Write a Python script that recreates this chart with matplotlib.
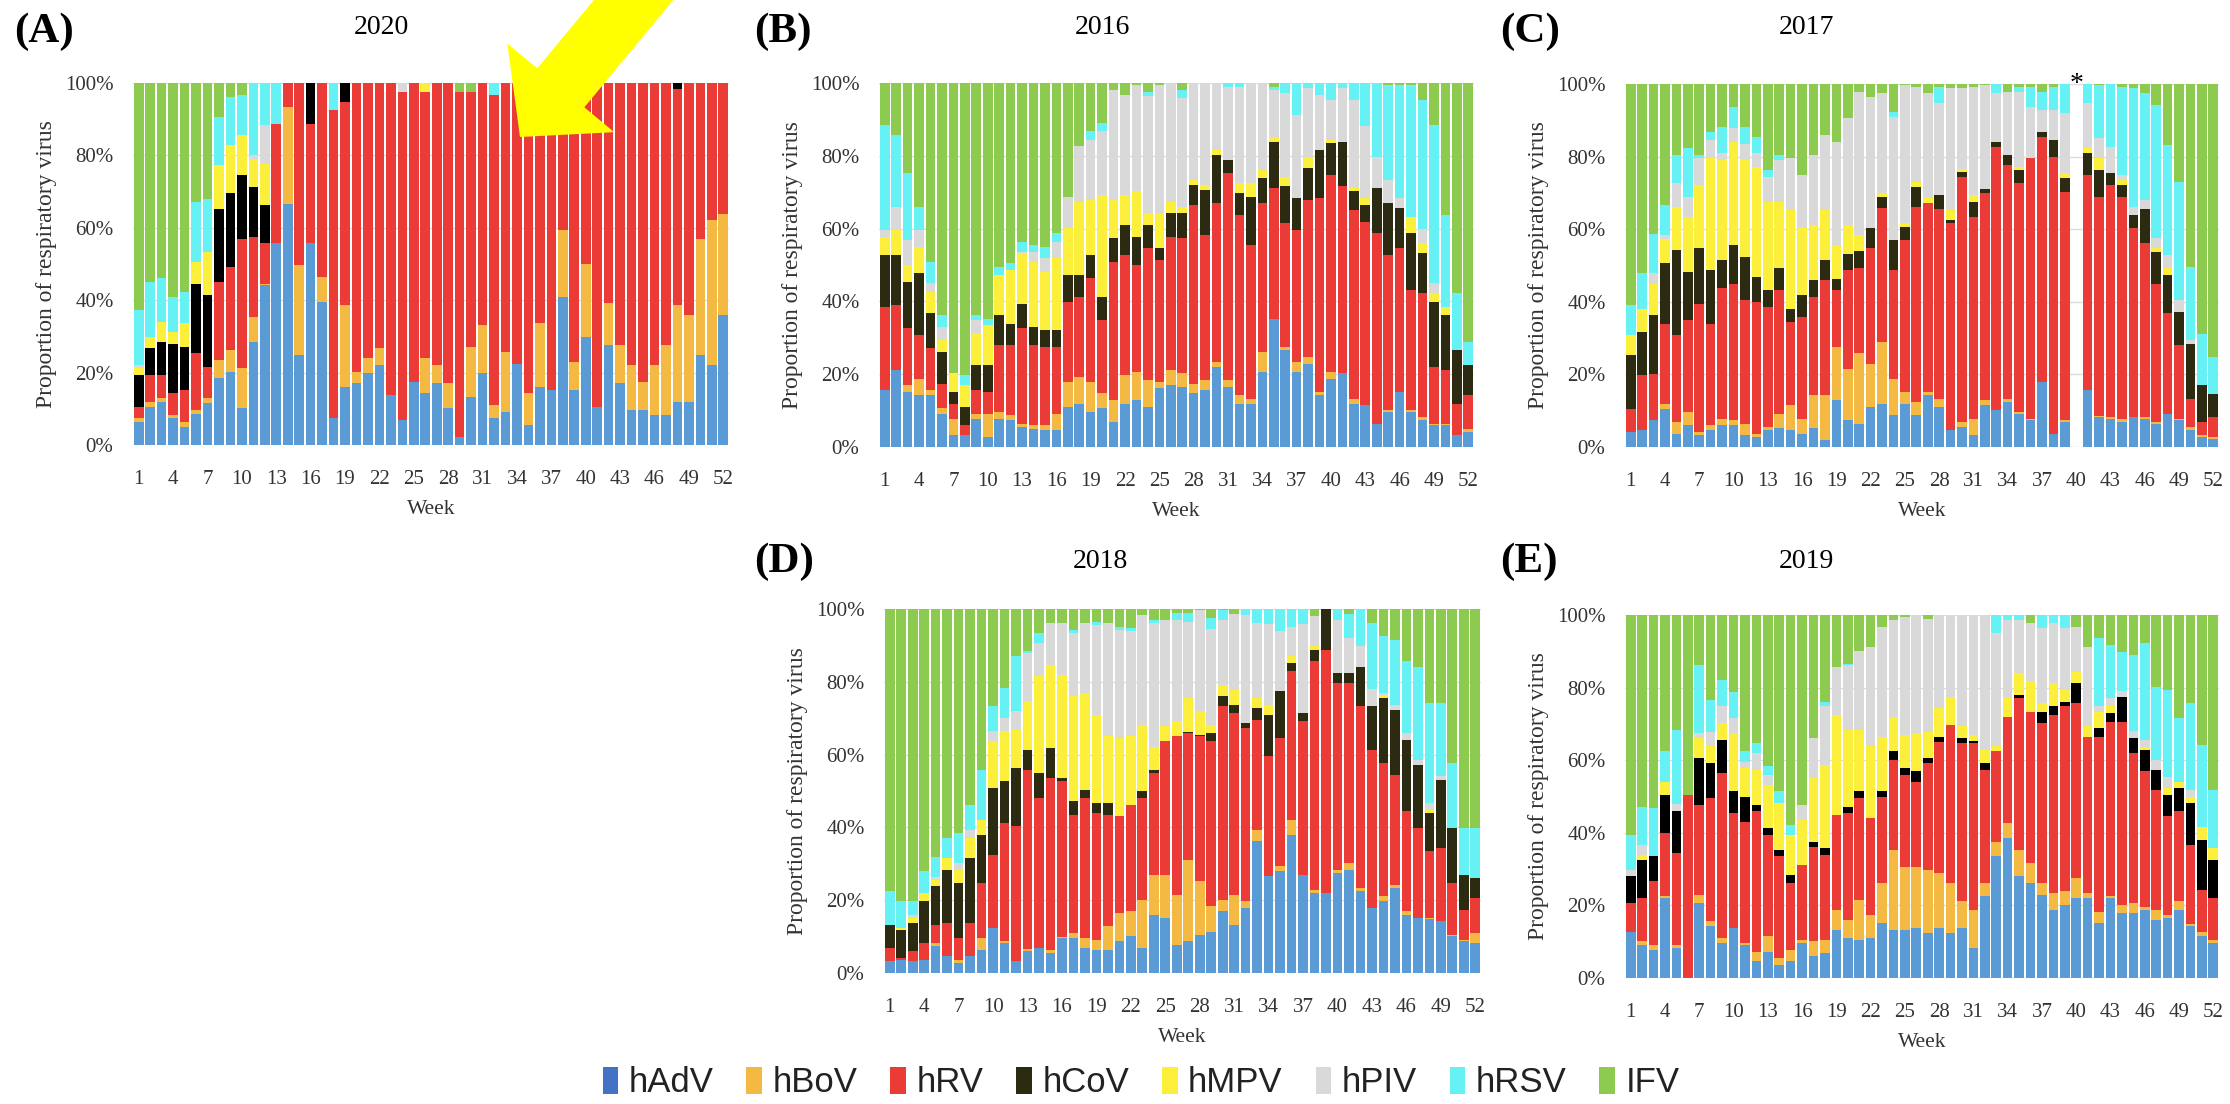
import matplotlib
matplotlib.use("Agg")
import matplotlib.pyplot as plt
from matplotlib import font_manager
from matplotlib.patches import FancyArrowPatch, Patch
import numpy as np

plt.rcParams['font.family'] = ['Liberation Serif', 'DejaVu Serif']

viruses = ["hAdV", "hBoV", "hRV", "hCoV", "hMPV", "hPIV", "hRSV", "IFV"]
colors = ["#5B9BD5", "#F4B942", "#EB3B36", "#2C2A10", "#FCEF3C", "#D9D9D9", "#66F2F5", "#8DCB50"]
legend_colors = ["#4472C4", "#F4B942", "#EB3B36", "#2C2A10", "#FCEF3C", "#D9D9D9", "#66F2F5", "#8DCB50"]
weeks = np.arange(1, 53)
week_ticks = np.arange(1, 53, 3)
nan = np.nan

# upper edge (%) of each stacked layer; IFV fills the rest up to 100%
adv_2020 = [6.4, 10.6, 12, 7.4, 5.1, 8.7, 11.5, 18.4, 20.2, 10.1,
            28.5, 44.2, 55.7, 66.7, 24.8, 55.7, 39.6, 7.4, 16.1, 17,
            19.8, 22.1, 13.8, 6.9, 17.5, 14.3, 17, 10.1, 2.3, 13.3,
            19.8, 7.4, 9.2, 22.5, 5.5, 16.1, 15.2, 40.9, 15.2, 29.9,
            10.6, 27.6, 17, 9.7, 9.7, 8.3, 8.3, 12, 12, 24.8,
            22.1, 35.9]
bov_2020 = [7.4, 12, 12.9, 8.3, 6.4, 9.7, 12.9, 23.5, 26.2, 21.2,
            35.4, 44.6, 55.7, 93.4, 49.7, 55.7, 46.5, 7.4, 38.6, 20.2,
            23.9, 26.7, 13.8, 6.9, 17.5, 23.9, 22.1, 17, 2.3, 27.1,
            33.1, 11, 25.8, 22.5, 14.3, 33.6, 15.2, 59.3, 23, 50.1,
            10.6, 39.1, 27.6, 22.1, 17.5, 22.1, 27.6, 38.6, 35.9, 57,
            62.1, 63.9]
rv_2020 = [10.6, 19.3, 19.3, 14.3, 15.2, 25.3, 21.6, 45, 49.2, 57,
           57.5, 55.7, 88.8, 100, 100, 88.8, 100, 92.5, 94.8, 100,
           100, 100, 100, 97.5, 100, 97.5, 100, 100, 97.5, 97.5,
           100, 96.6, 100, 100, 100, 100, 100, 100, 100, 100,
           100, 100, 100, 100, 100, 100, 100, 98.4, 100, 100,
           100, 100]
cov_2020 = [19.3, 26.7, 28.5, 28, 27.1, 44.6, 41.4, 65.3, 69.5, 74.5,
            71.3, 66.2, 88.8, 100, 100, 100, 100, 92.5, 100, 100,
            100, 100, 100, 97.5, 100, 97.5, 100, 100, 97.5, 97.5,
            100, 96.6, 100, 100, 100, 100, 100, 100, 100, 100,
            100, 100, 100, 100, 100, 100, 100, 100, 100, 100,
            100, 100]
mpv_2020 = [21.2, 29.9, 34, 31.3, 33.6, 50.6, 53.4, 77.3, 82.8, 85.6,
            79.1, 77.7, 88.8, 100, 100, 100, 100, 92.5, 100, 100,
            100, 100, 100, 97.5, 100, 100, 100, 100, 97.5, 97.5,
            100, 96.6, 100, 100, 100, 100, 100, 100, 100, 100,
            100, 100, 100, 100, 100, 100, 100, 100, 100, 100,
            100, 100]
piv_2020 = [22, 29.9, 34, 31.3, 33.6, 50.6, 53.4, 77.3, 82.8, 85.6,
            80, 88.3, 88.8, 100, 100, 100, 100, 92.5, 100, 100,
            100, 100, 100, 100, 100, 100, 100, 100, 97.5, 97.5,
            100, 96.6, 100, 100, 100, 100, 100, 100, 100, 100,
            100, 100, 100, 100, 100, 100, 100, 100, 100, 100,
            100, 100]
rsv_2020 = [37.3, 45, 46, 41, 42.3, 67.2, 68, 90.6, 96.1, 96.6,
            100, 100, 100, 100, 100, 100, 100, 100, 100, 100,
            100, 100, 100, 100, 100, 100, 100, 100, 97.5, 97.5,
            100, 100, 100, 100, 100, 100, 100, 100, 100, 100,
            100, 100, 100, 100, 100, 100, 100, 100, 100, 100,
            100, 100]

adv_2016 = [15.6, 21.1, 15.1, 14.2, 14.2, 9.2, 3.2, 3.2, 7.8, 2.8,
            7.8, 7.3, 5.5, 5, 4.6, 4.6, 11, 11.9, 9.6, 10.6,
            6.9, 11.9, 12.8, 11, 16.1, 17, 16.5, 14.7, 15.6, 22,
            16.5, 11.9, 11.9, 20.6, 35.3, 26.6, 20.6, 22.9, 14.2, 18.8,
            20.2, 11.9, 11.5, 6.4, 9.6, 15.1, 9.6, 7.3, 6, 6,
            3.2, 4.1]
bov_2016 = [15.6, 21.1, 17, 18.8, 15.6, 10.6, 7.8, 3.2, 9.2, 9.2,
            9.6, 8.7, 6.4, 6, 6, 9.2, 17.9, 19.3, 17.9, 14.7,
            12.8, 19.7, 20.6, 18.3, 17.9, 21.1, 20.2, 17.4, 18.3, 23.4,
            18.3, 14.2, 13.3, 26.1, 35.3, 27.5, 23.4, 24.8, 15.1, 20.6,
            20.2, 13.3, 11.5, 6.4, 10.1, 15.1, 10.1, 8.3, 6.4, 6.4,
            3.2, 5]
rv_2016 = [38.5, 39, 32.6, 30.7, 27.1, 17.4, 11.9, 6, 15.6, 15.1,
           28, 28, 32.6, 28, 27.5, 27.5, 39.9, 41.3, 46.3, 34.9,
           50.9, 52.8, 50, 54.6, 51.4, 57.8, 57.3, 66.5, 58.3, 67,
           75.2, 63.8, 55.5, 67, 71.1, 61.5, 59.6, 67.9, 68.3, 74.8,
           71.6, 65.1, 61.9, 58.7, 52.8, 54.6, 43.1, 42.2, 22, 21.1,
           11.9, 14.2]
cov_2016 = [52.8, 52.8, 45.4, 47.7, 36.7, 26.1, 15.1, 11, 22.5, 22.5,
            36.2, 33.9, 39.4, 33, 32.1, 32.1, 47.2, 47.2, 52.8, 41.3,
            57.3, 61, 57.8, 61, 54.6, 64.2, 64.2, 72, 70.6, 80.3,
            78.9, 69.7, 68.8, 73.9, 83.9, 71.6, 68.3, 76.6, 81.7, 83.5,
            83.9, 70.2, 66.5, 71.1, 67, 65.6, 58.7, 53.2, 39.9, 36.2,
            26.6, 22.5]
mpv_2016 = [57.8, 59.6, 50, 55, 42.7, 29.4, 20.2, 17, 31.2, 33.5,
            47.2, 48.6, 53.2, 50.9, 48.2, 51.8, 60.1, 67.4, 67.9, 69.3,
            67.9, 69.3, 70.2, 64.2, 64.2, 67.4, 66, 73.4, 72, 81.7,
            78.9, 72.5, 72.5, 76.1, 85.3, 74.3, 68.3, 79.8, 81.7, 84.4,
            83.9, 71.1, 68.3, 71.1, 67, 65.6, 63.3, 56, 42.2, 38.5,
            26.6, 22.5]
piv_2016 = [59.6, 66, 56.9, 59.6, 45, 33, 20.2, 17, 34.9, 33.5,
            47.2, 48.6, 53.7, 53.7, 51.8, 56.4, 68.8, 82.6, 84.4, 86.7,
            98.2, 96.8, 99.5, 96.3, 99.5, 100, 96, 100, 100, 100,
            99, 99, 100, 100, 98.2, 97.2, 91.3, 98.6, 96.8, 95.4,
            98.6, 95.4, 88.1, 79.8, 73.4, 68.3, 63.3, 60, 45, 38.5,
            26.6, 22.5]
rsv_2016 = [88.5, 85.8, 75.2, 66, 50.9, 36.2, 20.2, 19.7, 36.2, 35.3,
            49.5, 50.5, 56.4, 55.5, 55, 58.7, 68.8, 82.6, 86.7, 89,
            98.2, 96.8, 99.5, 97.5, 99.5, 100, 98, 100, 100, 100,
            100, 100, 100, 100, 99, 100, 100, 100, 100, 100,
            100, 100, 100, 100, 99.5, 99.5, 99.5, 95.4, 88.5, 63.8,
            42.2, 28.9]

adv_2017 = [4.1, 4.6, 7.4, 10.6, 3.7, 6, 3.2, 4.6, 6, 6,
            3.2, 2.8, 4.6, 5.1, 4.6, 3.7, 5.1, 1.8, 12.9, 7.4,
            6.4, 11, 11.9, 8.7, 11.9, 8.7, 14.2, 11, 4.6, 5.5,
            3.2, 11.5, 10.1, 12.4, 9.2, 7.4, 17.9, 3.7, 6.9, nan,
            15.6, 8.3, 7.8, 6.9, 8.3, 7.8, 6.4, 9.2, 7.4, 4.6,
            2.8, 2.3]
bov_2017 = [4.1, 4.6, 7.4, 11.9, 6.9, 9.7, 4.1, 6, 7.8, 7.4,
            6.4, 3.7, 5.5, 9.2, 11.5, 7.8, 14.2, 14.2, 27.6, 21.6,
            26, 23, 29, 18.8, 15.1, 12.4, 15.1, 13.3, 4.6, 6.9,
            7.8, 12.9, 10.1, 13.3, 9.6, 7.8, 17.9, 3.7, 7.5, nan,
            15.6, 8.6, 8.2, 7.8, 8.3, 8.2, 6.8, 9.2, 7.8, 5.5,
            3.2, 2.8]
rv_2017 = [10.6, 19.8, 20.2, 34, 30.8, 34.9, 39.5, 34, 43.7, 45,
           40.4, 40, 38.6, 43.2, 34.5, 35.8, 41.4, 46, 43.2, 48.7,
           49.2, 54.7, 65.8, 48.7, 57, 66.2, 67.1, 65.7, 61.6, 74.4,
           63.4, 69.9, 82.7, 77.7, 72.6, 79.5, 85.5, 80, 70.3, nan,
           74.9, 68.9, 72.2, 68.9, 60.2, 56.1, 45, 36.8, 28, 13.3,
           6.9, 8.3]
cov_2017 = [25.3, 31.7, 36.3, 50.6, 54.2, 48.3, 54.7, 48.7, 51.5, 55.6,
            52.4, 46.9, 43.2, 49.2, 38.1, 41.8, 46, 51.5, 46.4, 53.3,
            54, 60.2, 68.9, 57, 60.7, 71.7, 67.1, 69.4, 62.5, 75.8,
            67.6, 71.2, 84.1, 80.4, 76.3, 79.5, 86.9, 84.6, 74, nan,
            80.9, 76.3, 75.4, 72.2, 63.8, 65.7, 53.8, 47.3, 37.2, 28.5,
            17, 14.7]
mpv_2017 = [30.8, 38.1, 45, 57.4, 66.2, 63.4, 72.2, 79.5, 79, 84.1,
            79, 77.2, 67.6, 67.6, 65.3, 60.2, 61.1, 65.3, 55.6, 61.1,
            58.3, 60.2, 69.9, 57, 61.6, 73.1, 68.5, 69.4, 65.3, 76.7,
            69.4, 71.2, 84.1, 80.4, 77.2, 79.5, 86.9, 84.6, 75.4, nan,
            82.3, 79.5, 75.4, 73.5, 63.8, 65.7, 54.7, 49.2, 37.2, 28.5,
            17, 14.7]
piv_2017 = [30.8, 38.1, 47.8, 58.5, 72.6, 68.9, 79.5, 84.6, 81, 87.8,
            83.6, 80.9, 74.4, 79, 79.5, 74.9, 80.4, 85.9, 84.1, 90.5,
            97.7, 96.5, 97.4, 91, 99.7, 99.3, 97.4, 94.7, 99, 99,
            99.3, 99.7, 97.5, 97.9, 97.9, 93.8, 92.8, 92.8, 91.9, nan,
            94.7, 85, 82.7, 75, 66, 68, 57.5, 53, 40.4, 29.4,
            17, 14.7]
rsv_2017 = [39.1, 47.8, 58.8, 66.6, 80.4, 82.3, 80.4, 86.9, 88.2, 93.8,
            88.2, 85.5, 76.3, 80.4, 79.5, 74.9, 80.4, 85.9, 84.1, 90.5,
            97.7, 96.5, 97.4, 92.4, 99.7, 99.3, 97.4, 99.3, 99, 99,
            99.3, 99.7, 100, 97.9, 99.3, 99.3, 97.9, 99.3, 100, nan,
            100, 99.7, 100, 99.3, 98.8, 97.4, 94.2, 83.2, 73.1, 49.6,
            31.2, 24.8]

adv_2018 = [3.2, 3.7, 3.2, 3.7, 7.3, 4.6, 2.7, 4.6, 6.4, 12.4,
            8.2, 3.2, 6, 6.9, 5.5, 9.6, 9.6, 6.9, 6.4, 6.4,
            8.7, 10.1, 6.9, 16, 15.1, 7.8, 8.7, 10.5, 11.4, 16.9,
            13.3, 17.9, 36.2, 26.6, 27.9, 38, 27, 22, 22, 27.5,
            28.4, 22.4, 17.9, 19.7, 23.4, 16, 15.1, 14.7, 14.2, 10.1,
            8.7, 8.2]
bov_2018 = [3.2, 3.7, 3.2, 3.7, 8.2, 4.6, 3.7, 4.6, 9.6, 12.4,
            8.7, 3.2, 6.5, 6.9, 6.4, 10, 11, 9.6, 9.2, 12.8,
            16.5, 16.9, 20.1, 27, 27, 21.5, 31.1, 25.2, 18.3, 20.1,
            21.5, 19.7, 39.4, 26.6, 29.3, 42.1, 27, 22.9, 22, 28.4,
            30.2, 23.4, 17.9, 21.1, 24.3, 16.9, 15.1, 15, 14.2, 10.5,
            9.2, 11]
rv_2018 = [6.9, 4.1, 6, 8.2, 13.3, 13.7, 9.6, 13.7, 24.7, 32.5,
           41.2, 40.3, 55.9, 48.1, 53.6, 52.7, 43.5, 48.1, 44, 43.5,
           43, 46.2, 48.1, 54.9, 63.6, 65, 65.9, 65, 63.6, 73.3,
           71.4, 67.3, 69.6, 59.5, 64.6, 82.9, 69.1, 85.6, 88.8, 79.7,
           79.7, 73.3, 61.4, 57.7, 54.5, 44.4, 39.8, 33.4, 34.3, 24.7,
           17.4, 20.6]
cov_2018 = [13.3, 11.9, 13.7, 19.7, 23.8, 28.4, 24.7, 31.6, 38, 50.8,
            52.7, 56.3, 61.4, 54.9, 61.8, 53.6, 47.2, 50.4, 46.7, 46.7,
            43, 46.2, 49.9, 55.9, 63.6, 65, 66.3, 65.4, 65.9, 76,
            73.7, 68.7, 72.8, 71, 77.4, 85.2, 71.4, 88.8, 100, 82.4,
            82.4, 84.2, 73.3, 75.5, 72.3, 64.1, 57.2, 43.9, 53.1, 39.8,
            27, 26.1]
mpv_2018 = [13.3, 12.5, 15.1, 22, 25.6, 31.6, 28.4, 37.1, 42.1, 63.6,
            66.4, 66.8, 74.6, 81.5, 84.7, 82, 76, 76.9, 71, 65,
            64.6, 65, 68.2, 62, 67.8, 69.1, 75.5, 71.9, 68.2, 79.2,
            77.8, 68.7, 75.5, 73.7, 77.4, 87, 71.4, 89.7, 100, 82.4,
            82.4, 84.2, 73.3, 76.5, 72.3, 64.1, 57.2, 44.9, 53.1, 39.8,
            27, 26.1]
piv_2018 = [13.3, 12.5, 16, 22, 26.5, 31.6, 30.2, 39.4, 42.1, 66.4,
            70.1, 72, 87.9, 90.7, 96.2, 96.2, 93.4, 96.2, 95.7, 96.2,
            94.3, 93.9, 98.4, 96.2, 97.1, 97, 96.5, 99.8, 94.5, 97,
            98.5, 98.4, 96.2, 96, 94, 95, 96, 98, 100, 97,
            92, 89.7, 78, 77, 73.5, 66, 58.5, 46.7, 54, 39.8,
            27, 26.1]
rsv_2018 = [22.4, 19.7, 19.7, 27.9, 32, 37.1, 38.5, 46.2, 55.9, 73.3,
            78.3, 87, 88.4, 93.4, 96.2, 96.2, 94.3, 96.2, 96.5, 96.2,
            95, 94.7, 98.4, 97, 97.1, 99, 98.9, 99.8, 97.5, 99.8,
            98.5, 100, 100, 100, 100, 100, 100, 98, 100, 100,
            98.5, 100, 96.2, 92.5, 91.6, 85.6, 84.2, 74.2, 74.2, 57.7,
            39.8, 39.8]

adv_2019 = [12.8, 9.2, 7.8, 22, 8.3, 0, 20.6, 14.2, 9.6, 13.8,
            9.2, 4.6, 7.3, 3.7, 4.6, 9.6, 6, 6.9, 13.3, 11,
            10.6, 11, 15.1, 13.3, 13.3, 13.8, 12.4, 13.8, 12.4, 13.8,
            8.3, 22.5, 33.5, 38.5, 28, 26.1, 22.9, 18.8, 20.2, 22,
            22, 15.1, 22, 17.9, 17.9, 18.8, 16.1, 16.5, 18.8, 14.2,
            11.5, 9.6]
bov_2019 = [12.8, 10.1, 9.2, 22.5, 9.2, 0, 22.9, 15.6, 11, 13.8,
            9.7, 7.3, 11.5, 5.5, 7.8, 10.6, 10.1, 10.6, 18.8, 16.1,
            21.6, 17.4, 26.1, 35.3, 30.7, 30.7, 29.8, 28.9, 26.1, 21.1,
            18.8, 26.1, 37.6, 42.7, 35.3, 31.7, 26.1, 23.4, 23.9, 27.5,
            23.4, 18.3, 22.5, 20.2, 20.6, 19.5, 18.8, 17.4, 21.1, 15,
            12.8, 10.5]
rv_2019 = [20.6, 22, 26.6, 39.9, 34.4, 50.5, 47.7, 49.5, 56.4, 45.4,
           43.1, 45.9, 39.4, 33.5, 26.1, 31.2, 36.2, 33.9, 45, 45.4,
           49.5, 44, 50, 60.1, 56, 54.1, 59.2, 65.1, 69.7, 64.7,
           64.7, 57.3, 62.4, 72, 77.1, 73.4, 70.2, 72.5, 74.8, 75.7,
           66.5, 66.5, 70.6, 70.6, 61.9, 56.9, 51.8, 44.5, 45.9, 36.7,
           24.3, 22]
cov_2019 = [28, 32.6, 33.5, 50.5, 45.9, 50.5, 60.6, 59.2, 65.6, 51.4,
            50, 47.7, 41.3, 35.3, 28.4, 31.2, 37.6, 35.8, 45, 47.2,
            51.4, 44, 51.4, 62.4, 57.8, 56.9, 60.6, 66.5, 69.7, 66.1,
            65.2, 59.2, 62.4, 72, 78, 73.4, 73.4, 74.8, 76.1, 81.2,
            66.5, 68.8, 72.9, 77.5, 66.1, 62.8, 57.3, 50.5, 52.3, 48.2,
            38.1, 32.6]
mpv_2019 = [28, 33.9, 33.5, 54.1, 45.9, 50.5, 66.1, 63.8, 70.2, 67.4,
            57.8, 57.3, 53.2, 48.2, 39.4, 43.6, 55, 58.7, 72.5, 68.3,
            68.3, 64, 66.5, 72, 67, 67.4, 67.9, 74.3, 77.5, 69.3,
            67, 62.8, 64, 77.1, 84, 81.7, 75.7, 81.2, 79.4, 84.4,
            69.3, 73.4, 75, 77.5, 66.1, 63.7, 57.3, 52.3, 54.1, 50,
            41.7, 35.8]
piv_2019 = [29.8, 36.7, 33.5, 54.1, 48, 50.5, 67.5, 67.9, 74.8, 71.6,
            59.6, 61.9, 56, 48.2, 39.4, 47.7, 66.1, 74.8, 85.8, 86.2,
            90, 91.3, 96.8, 98.6, 99.5, 100, 99, 100, 100, 100,
            100, 100, 95, 98.6, 98.5, 97.7, 96.3, 97.7, 96.3, 96.8,
            91.3, 75, 77, 79, 68, 65.5, 60, 55.5, 54.1, 51.8,
            41.7, 35.8]
rsv_2019 = [39.4, 47.2, 46.8, 62.4, 68.3, 50.5, 86.2, 76.6, 82.1, 78.9,
            62.4, 64.7, 58.3, 51.4, 42.2, 47.7, 66.1, 76.1, 85.8, 86.6,
            90, 91.3, 96.8, 98.6, 99.5, 100, 99, 100, 100, 100,
            100, 100, 100, 100, 100, 97.7, 100, 100, 100, 96.8,
            91.3, 93.6, 91.7, 89.9, 89, 92.2, 80.3, 79.4, 71.6, 75.7,
            64.2, 51.8]

W, H = 2230, 1104
fig = plt.figure(figsize=(W / 100, H / 100), dpi=100)


def px_rect(x0, x1, y0, y1):
    # pixel box (top-left origin) -> figure fraction
    return [x0 / W, 1 - y1 / H, (x1 - x0) / W, (y1 - y0) / H]


panels = [
    ("(A)", "2020", [adv_2020, bov_2020, rv_2020, cov_2020, mpv_2020, piv_2020, rsv_2020],
     px_rect(133, 729, 83, 445), (14, 32), (381, 28), "#000000"),
    ("(B)", "2016", [adv_2016, bov_2016, rv_2016, cov_2016, mpv_2016, piv_2016, rsv_2016],
     px_rect(879, 1474, 83, 447), (754, 32), (1102, 28), colors[3]),
    ("(C)", "2017", [adv_2017, bov_2017, rv_2017, cov_2017, mpv_2017, piv_2017, rsv_2017],
     px_rect(1625, 2219, 84, 447), (1500, 32), (1806, 28), colors[3]),
    ("(D)", "2018", [adv_2018, bov_2018, rv_2018, cov_2018, mpv_2018, piv_2018, rsv_2018],
     px_rect(884, 1481, 609, 973), (754, 562), (1100, 562), colors[3]),
    ("(E)", "2019", [adv_2019, bov_2019, rv_2019, cov_2019, mpv_2019, piv_2019, rsv_2019],
     px_rect(1625, 2219, 615, 978), (1500, 562), (1806, 562), "#000000"),
]

for letter, year, layers, rect, letter_xy, title_xy, cov_color in panels:
    ax = fig.add_axes(rect)
    tops = np.array(layers + [[100] * 52], dtype=float)
    ok = ~np.isnan(tops[0])
    bottoms = np.vstack([np.zeros(52), tops[:-1]])
    for i, name in enumerate(viruses):
        c = cov_color if name == "hCoV" else colors[i]
        ax.bar(weeks[ok], (tops[i] - bottoms[i])[ok], bottom=bottoms[i][ok],
               width=0.84, color=c, linewidth=0, zorder=2)
    ax.set_xlim(0.5, 52.5)
    ax.set_ylim(0, 100)
    ax.set_xticks(week_ticks)
    ax.set_yticks(range(0, 101, 20))
    ax.set_yticklabels([f"{v}%" for v in range(0, 101, 20)])
    ax.tick_params(length=0, labelsize=15, colors="#333333")
    ax.tick_params(axis="x", pad=18)
    ax.tick_params(axis="y", pad=14)
    for s in ax.spines.values():
        s.set_visible(False)
    ax.yaxis.grid(True, color="#dcdcdc", lw=1)
    ax.set_axisbelow(True)
    ax.set_xlabel("Week", fontsize=15.5, color="#333333", labelpad=8)
    ax.set_ylabel("Proportion of respiratory virus", fontsize=17, color="#333333", labelpad=6)
    if year == "2017":
        ax.text(40, 100, "*", ha="center", va="center", fontsize=20, clip_on=False)
    fig.text(letter_xy[0] / W, 1 - letter_xy[1] / H, letter, fontsize=31,
             fontweight="bold", ha="left", va="center")
    fig.text(title_xy[0] / W, 1 - title_xy[1] / H, year, fontsize=20,
             ha="center", va="center")

# legend in a narrow sans if one is installed
names = {f.name for f in font_manager.fontManager.ttflist}
narrow = next((n for n in ["Liberation Sans Narrow", "DejaVu Sans Condensed"] if n in names), None)
leg_font = narrow or "Liberation Sans"
leg_size = 28 if narrow else 25
handles = [Patch(color=c, linewidth=0) for c in legend_colors]
fig.legend(handles, viruses, loc="center", bbox_to_anchor=(1141 / W, 1 - 1083 / H),
           ncol=8, frameon=False, prop={"family": leg_font, "size": leg_size},
           handlelength=0.45, handleheight=0.8, handletextpad=0.3, columnspacing=0.95,
           labelcolor="#222222")

# the yellow pointer on panel A
arrow = FancyArrowPatch((661 / W, 1 + 33 / H), (520 / W, 1 - 137 / H),
                        transform=fig.transFigure,
                        arrowstyle="simple,head_length=46,head_width=100,tail_width=44",
                        mutation_scale=1, shrinkA=0, shrinkB=0,
                        facecolor="#FFFF00", edgecolor="none", zorder=10)
fig.add_artist(arrow)

fig.savefig("out.png", dpi=100)
